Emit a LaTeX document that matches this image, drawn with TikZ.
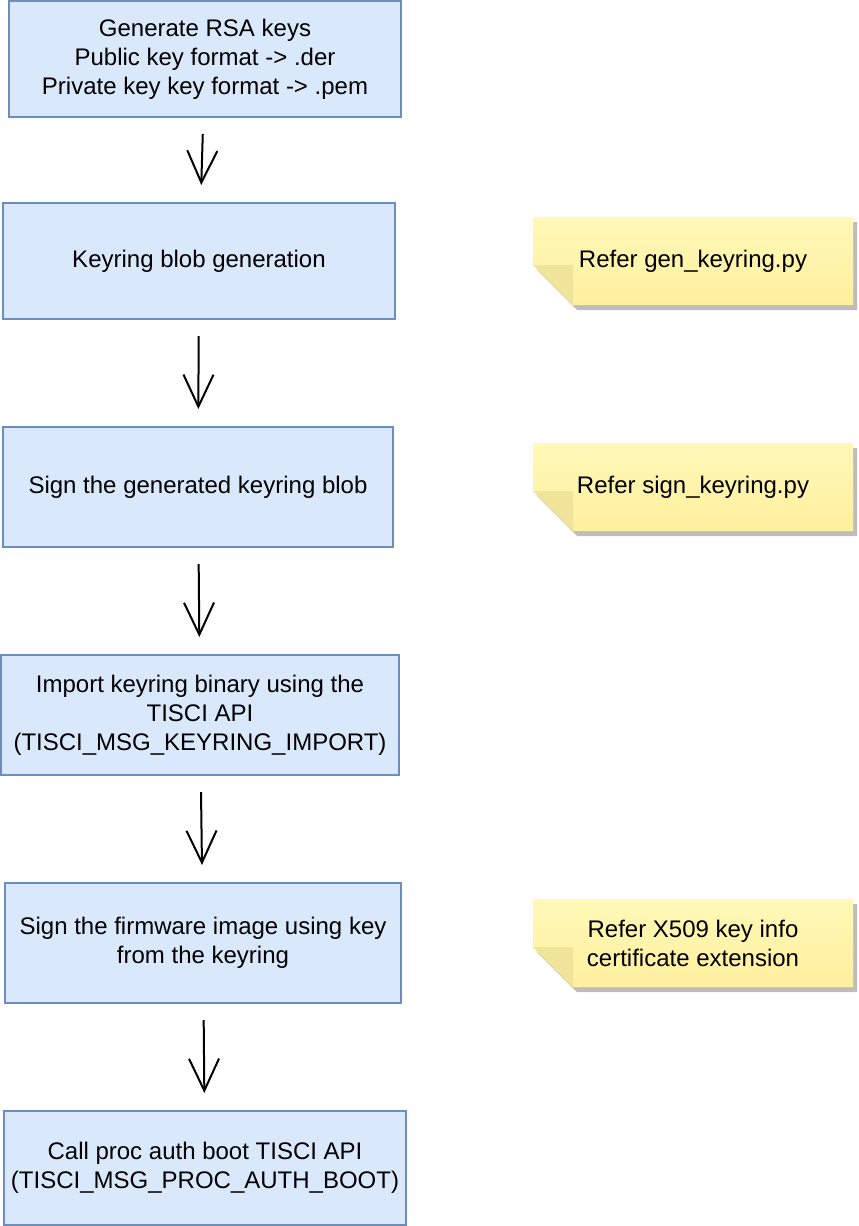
\documentclass[tikz,border=0pt]{standalone}
\usepackage{fontspec}
\setmainfont{Liberation Sans}
\usetikzlibrary{arrows.meta}
\definecolor{boxfill}{HTML}{DAE8FC}
\definecolor{boxline}{HTML}{6C8EBF}
\definecolor{notetop}{HTML}{FFF8B8}
\definecolor{notebot}{HTML}{FFF09E}
\definecolor{notefold}{HTML}{F0E39A}
\definecolor{noteshadow}{HTML}{BDBDBD}
\tikzset{
  stepbox/.style={draw=boxline,fill=boxfill,line width=1pt,align=center,inner sep=0pt},
  notetxt/.style={align=center,inner sep=0pt},
  flow/.style={-{Straight Barb[length=16pt,width=15pt]},line width=1pt,shorten <=8pt,shorten >=8.5pt}
}
\begin{document}
\begin{tikzpicture}[x=0.5pt,y=-0.5pt,font=\fontsize{12}{14.5}\selectfont]
\useasboundingbox (0,0) rectangle (858,1226);
% steps
\node[stepbox,minimum width=196pt,minimum height=58pt] (keys) at (205,59)
  {Generate RSA keys\\Public key format -> .der\\Private key key format -> .pem};
\node[stepbox,minimum width=196pt,minimum height=58pt] (blob) at (199,261)
  {Keyring blob generation};
\node[stepbox,minimum width=195pt,minimum height=60pt] (signblob) at (198,487)
  {Sign the generated keyring blob};
\node[stepbox,minimum width=199pt,minimum height=60pt] (import) at (200,715)
  {Import keyring binary using the\\TISCI API\\(TISCI\_MSG\_KEYRING\_IMPORT)};
\node[stepbox,minimum width=198pt,minimum height=60pt] (signfw) at (203,943)
  {Sign the firmware image using key\\from the keyring};
\node[stepbox,minimum width=201pt,minimum height=57pt] (boot) at (205,1168)
  {Call proc auth boot TISCI API\\(TISCI\_MSG\_PROC\_AUTH\_BOOT)};
\draw[flow] (keys) -- (blob);
\draw[flow] (blob) -- (signblob);
\draw[flow] (signblob) -- (import);
\draw[flow] (import) -- (signfw);
\draw[flow] (signfw) -- (boot);
% notes
\foreach \t/\nm/\txt in {217/gen/{Refer gen\_keyring.py},443/sign/{Refer sign\_keyring.py},899/xcert/{Refer X509 key info\\certificate extension}}{
  \fill[noteshadow] (537,\t+5) -- ++(320,0) -- ++(0,88) -- ++(-280,0) -- ++(-40,-40) -- cycle;
  \shade[top color=notetop,bottom color=notebot] (533,\t) -- ++(320,0) -- ++(0,88) -- ++(-280,0) -- ++(-40,-40) -- cycle;
  \fill[notefold] (533,\t+48) -- ++(40,0) -- ++(0,40) -- cycle;
  \node[notetxt] (\nm) at (693,\t+44) {\txt};
}
\end{tikzpicture}
\end{document}
